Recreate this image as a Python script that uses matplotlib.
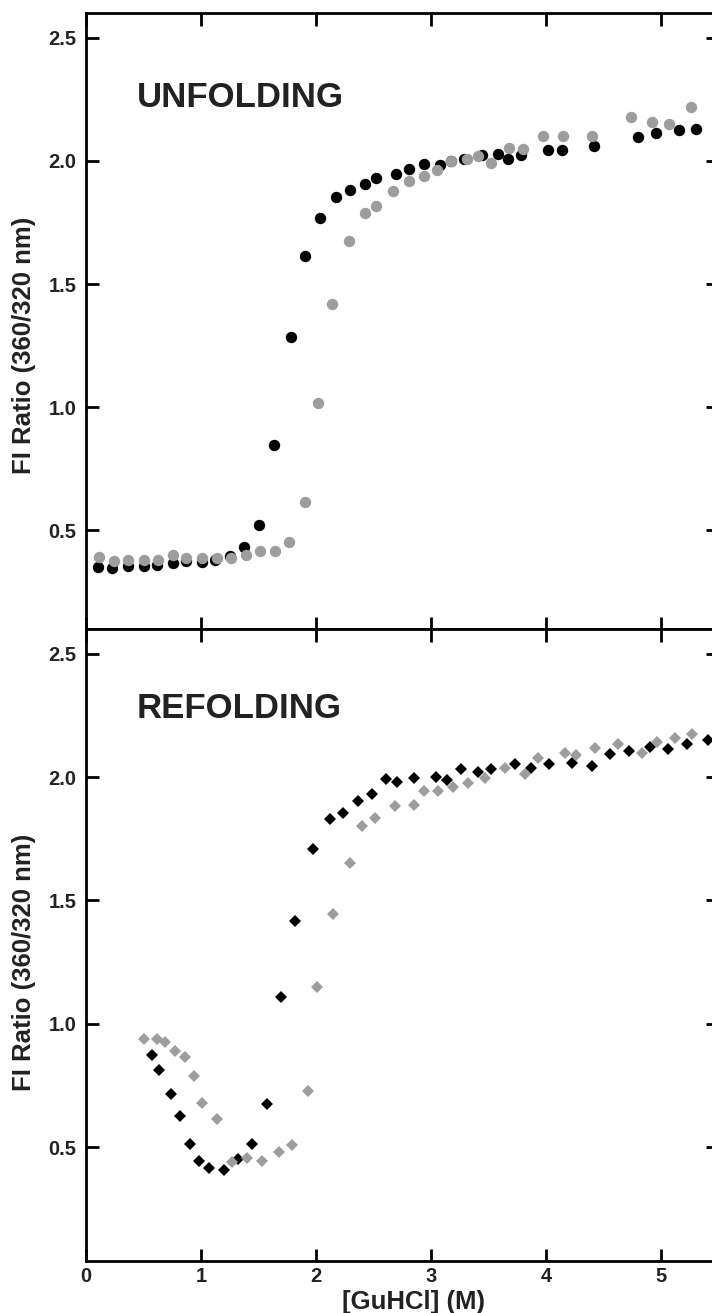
import matplotlib
matplotlib.use("Agg")
import matplotlib.pyplot as plt

plt.rcParams['font.family'] = ['Liberation Sans', 'DejaVu Sans']
plt.rcParams['font.weight'] = 'bold'

# ---------------- data ----------------
unf_black_x = [0.107, 0.229, 0.369, 0.50, 0.62, 0.753, 0.873, 1.01, 1.126, 1.248, 1.373, 1.503,
               1.634, 1.78, 1.905, 2.034, 2.172, 2.295, 2.427, 2.518, 2.696, 2.812, 2.943, 3.074,
               3.176, 3.29, 3.447, 3.584, 3.671, 3.781, 4.02, 4.142, 4.42, 4.80, 4.956, 5.155, 5.308]
unf_black_y = [0.351, 0.348, 0.357, 0.357, 0.36, 0.368, 0.378, 0.371, 0.381, 0.396, 0.434, 0.522,
               0.847, 1.286, 1.615, 1.77, 1.853, 1.883, 1.906, 1.93, 1.945, 1.966, 1.987, 1.984,
               2.0, 2.008, 2.024, 2.028, 2.009, 2.023, 2.042, 2.045, 2.062, 2.096, 2.115, 2.126, 2.13]

unf_gray_x = [0.116, 0.247, 0.369, 0.50, 0.626, 0.757, 0.873, 1.01, 1.14, 1.265, 1.394, 1.51,
              1.643, 1.763, 1.907, 2.018, 2.135, 2.289, 2.429, 2.525, 2.673, 2.812, 2.935, 3.05,
              3.176, 3.31, 3.41, 3.52, 3.68, 3.80, 3.97, 4.145, 4.404, 4.738, 4.92, 5.067, 5.26]
unf_gray_y = [0.391, 0.375, 0.381, 0.382, 0.381, 0.401, 0.387, 0.39, 0.387, 0.39, 0.402, 0.416,
              0.418, 0.452, 0.614, 1.019, 1.417, 1.673, 1.79, 1.817, 1.879, 1.92, 1.939, 1.964,
              2.0, 2.009, 2.02, 1.991, 2.054, 2.047, 2.102, 2.101, 2.101, 2.177, 2.159, 2.149, 2.22]

ref_black_x = [0.573, 0.631, 0.739, 0.82, 0.904, 0.986, 1.067, 1.204, 1.324, 1.447, 1.571, 1.697,
               1.818, 1.975, 2.118, 2.231, 2.365, 2.49, 2.605, 2.70, 2.85, 3.045, 3.139, 3.264,
               3.409, 3.52, 3.729, 3.868, 4.025, 4.229, 4.398, 4.558, 4.718, 4.901, 5.061, 5.227, 5.41]
ref_black_y = [0.874, 0.812, 0.715, 0.625, 0.512, 0.443, 0.416, 0.408, 0.451, 0.513, 0.674, 1.11,
               1.417, 1.707, 1.828, 1.855, 1.902, 1.933, 1.99, 1.98, 1.995, 2.0, 1.989, 2.031,
               2.02, 2.031, 2.051, 2.035, 2.051, 2.058, 2.045, 2.092, 2.105, 2.121, 2.112, 2.132, 2.149]

ref_gray_x = [0.50, 0.617, 0.69, 0.777, 0.864, 0.94, 1.012, 1.14, 1.271, 1.402, 1.533, 1.678,
              1.789, 1.931, 2.013, 2.15, 2.295, 2.40, 2.516, 2.69, 2.85, 2.938, 3.06, 3.19,
              3.32, 3.467, 3.641, 3.82, 3.933, 4.165, 4.258, 4.427, 4.63, 4.834, 4.965, 5.125, 5.27]
ref_gray_y = [0.94, 0.94, 0.927, 0.888, 0.864, 0.79, 0.68, 0.614, 0.438, 0.456, 0.445, 0.479,
              0.51, 0.729, 1.15, 1.444, 1.65, 1.80, 1.834, 1.884, 1.887, 1.943, 1.943, 1.96,
              1.977, 1.995, 2.035, 2.013, 2.076, 2.099, 2.088, 2.116, 2.135, 2.099, 2.143, 2.157, 2.176]

x_ticks = [0, 1, 2, 3, 4, 5]
y_ticks = [0.5, 1.0, 1.5, 2.0, 2.5]
panel_titles = ["UNFOLDING", "REFOLDING"]
y_label = "FI Ratio (360/320 nm)"
x_label = "[GuHCl] (M)"

# ---------------- layout ----------------
W, H = 712, 1313
fig = plt.figure(figsize=(W / 100, H / 100), dpi=100)

def fx(px):
    return px / W

def fy(py):
    return 1 - py / H

left_px, right_px = 86, 718
top1, bot1 = 13, 629
top2, bot2 = 629, 1261

ax1 = fig.add_axes([fx(left_px), fy(bot1), fx(right_px - left_px), (bot1 - top1) / H])
ax2 = fig.add_axes([fx(left_px), fy(bot2), fx(right_px - left_px), (bot2 - top2) / H])

BLACK = '#000000'
GRAY = '#9d9d9d'
TXT = '#222222'

ax1.plot(unf_black_x, unf_black_y, 'o', color=BLACK, ms=8.2, mew=0, zorder=3)
ax1.plot(unf_gray_x, unf_gray_y, 'o', color=GRAY, ms=8.2, mew=0, zorder=4)
ax2.plot(ref_black_x, ref_black_y, 'D', color=BLACK, ms=6.6, mew=0, zorder=3)
ax2.plot(ref_gray_x, ref_gray_y, 'D', color=GRAY, ms=6.6, mew=0, zorder=4)

ax1.set_ylim(0.1, 2.6)
ax2.set_ylim(2.6 - (bot2 - top2) / 246.7, 2.6)

for ax in (ax1, ax2):
    ax.set_xlim(0, (right_px - left_px) / 115.0)
    ax.set_xticks(x_ticks)
    ax.set_yticks(y_ticks)
    ax.set_yticklabels([f"{v:.1f}" for v in y_ticks])
    ax.tick_params(direction='in', length=9, width=2.0, top=True, right=True,
                   labelsize=14.5, pad=7)
    ax.tick_params(axis='x', pad=4)
    for s in ax.spines.values():
        s.set_linewidth(2.0)
    for lab in ax.get_xticklabels() + ax.get_yticklabels():
        lab.set_fontweight('bold')
        lab.set_color(TXT)

ax1.tick_params(labelbottom=False)

ax1.text(0.443, 2.219, panel_titles[0], fontsize=25, fontweight='bold', color=TXT,
         ha='left', va='baseline')
ax2.text(0.443, 2.239, panel_titles[1], fontsize=25, fontweight='bold', color=TXT,
         ha='left', va='baseline')

fig.text(fx(24), fy(345), y_label, rotation=90, ha='center', va='center',
         fontsize=18.5, fontweight='bold', color=TXT)
fig.text(fx(24), fy(962), y_label, rotation=90, ha='center', va='center',
         fontsize=18.5, fontweight='bold', color=TXT)
fig.text(fx(414), fy(1309), x_label, ha='center', va='baseline',
         fontsize=18.5, fontweight='bold', color=TXT)

fig.savefig("out.png", dpi=100)
